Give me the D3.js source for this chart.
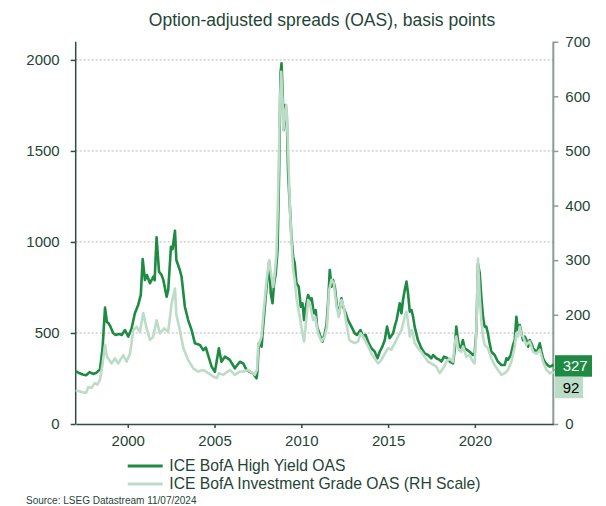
<!DOCTYPE html>
<html>
<head>
<meta charset="utf-8">
<script src="https://cdn.jsdelivr.net/npm/d3@7/dist/d3.min.js"></script>
<style>
  html, body { margin: 0; padding: 0; background: #ffffff; }
  svg { display: block; font-family: "Liberation Sans", Arial, sans-serif; }
</style>
</head>
<body>
<div id="chart"></div>
<script>
// ICE BofA option-adjusted spreads, basis points (decimal-year dates)
const hyDates = [
  1997.0, 1997.2, 1997.4, 1997.6, 1997.8, 1998.0, 1998.2, 1998.4, 1998.55, 1998.69,
  1998.8, 1998.9, 1999.0, 1999.15, 1999.3, 1999.5, 1999.65, 1999.84, 2000.03, 2000.22,
  2000.41, 2000.6, 2000.75, 2000.86, 2000.99, 2001.1, 2001.28, 2001.47, 2001.55, 2001.66,
  2001.8, 2001.95, 2002.05, 2002.24, 2002.33, 2002.49, 2002.58, 2002.72, 2002.8, 2003.0,
  2003.1, 2003.29, 2003.48, 2003.68, 2003.87, 2004.16, 2004.35, 2004.5, 2004.83, 2005.02,
  2005.25, 2005.4, 2005.6, 2005.88, 2006.17, 2006.46, 2006.65, 2006.84, 2007.03, 2007.22,
  2007.42, 2007.47, 2007.55, 2007.63, 2007.71, 2007.8, 2008.0, 2008.08, 2008.15, 2008.24,
  2008.34, 2008.43, 2008.53, 2008.63, 2008.72, 2008.8, 2008.86, 2008.92, 2008.99, 2009.09,
  2009.16, 2009.24, 2009.34, 2009.43, 2009.53, 2009.62, 2009.72, 2009.85, 2009.97, 2010.07,
  2010.16, 2010.26, 2010.39, 2010.53, 2010.6, 2010.72, 2010.83, 2010.91, 2011.07, 2011.22,
  2011.35, 2011.45, 2011.55, 2011.64, 2011.74, 2011.83, 2011.93, 2012.06, 2012.18, 2012.31,
  2012.41, 2012.56, 2012.69, 2012.89, 2013.08, 2013.21, 2013.41, 2013.56, 2013.7, 2013.85,
  2014.04, 2014.23, 2014.39, 2014.52, 2014.67, 2014.81, 2014.94, 2015.09, 2015.29, 2015.38,
  2015.5, 2015.67, 2015.77, 2015.86, 2015.96, 2016.06, 2016.15, 2016.25, 2016.35, 2016.44,
  2016.53, 2016.72, 2016.92, 2017.11, 2017.3, 2017.49, 2017.59, 2017.78, 2017.97, 2018.07,
  2018.22, 2018.42, 2018.55, 2018.74, 2018.84, 2018.93, 2019.03, 2019.12, 2019.22, 2019.31,
  2019.41, 2019.57, 2019.7, 2019.89, 2019.99, 2020.09, 2020.18, 2020.28, 2020.37, 2020.47,
  2020.56, 2020.66, 2020.75, 2020.85, 2020.95, 2021.14, 2021.33, 2021.53, 2021.72, 2021.82,
  2021.91, 2022.07, 2022.2, 2022.3, 2022.39, 2022.49, 2022.59, 2022.68, 2022.78, 2022.88,
  2022.97, 2023.07, 2023.16, 2023.26, 2023.36, 2023.45, 2023.55, 2023.65, 2023.74, 2023.84,
  2023.93, 2024.03, 2024.18, 2024.32, 2024.45, 2024.52
];
const hyValues = [
  290, 280, 272, 268, 285, 275, 282, 300, 420, 639,
  560, 553, 535, 500, 489, 495, 489, 516, 480, 525,
  608, 654, 708, 906, 791, 818, 773, 809, 790, 1026,
  837, 818, 791, 699, 736, 974, 960, 1062, 901, 846,
  809, 644, 571, 516, 443, 434, 406, 420, 315, 287,
  416, 342, 370, 352, 306, 342, 333, 297, 287, 278,
  251, 287, 443, 451, 425, 535, 754, 828, 891, 718,
  663, 773, 828, 956, 1377, 1926, 1981, 1835, 1615, 1752,
  1707, 1377, 1194, 1029, 919, 883, 773, 754, 644, 663,
  571, 644, 708, 681, 690, 608, 626, 535, 489, 452,
  498, 544, 681, 846, 754, 791, 754, 644, 608, 690,
  644, 608, 571, 535, 498, 489, 516, 480, 490, 452,
  416, 397, 361, 397, 425, 461, 535, 471, 498, 535,
  575, 663, 608, 681, 736, 782, 718, 617, 626, 589,
  535, 461, 416, 388, 379, 361, 379, 361, 352, 343,
  370, 361, 343, 333, 406, 535, 461, 406, 425, 461,
  416, 406, 397, 379, 388, 516, 880, 828, 699, 589,
  535, 535, 498, 443, 397, 379, 342, 324, 324, 361,
  352, 379, 434, 461, 589, 516, 544, 498, 461, 480,
  461, 425, 461, 443, 416, 406, 388, 416, 443, 397,
  361, 342, 324, 315, 320, 327
];

const igDates = [
  1997.0, 1997.2, 1997.4, 1997.6, 1997.73, 1997.9, 1998.1, 1998.25, 1998.4, 1998.55,
  1998.69, 1998.8, 1999.07, 1999.25, 1999.45, 1999.74, 1999.93, 2000.13, 2000.32, 2000.5,
  2000.7, 2000.89, 2001.09, 2001.28, 2001.47, 2001.66, 2001.85, 2002.1, 2002.33, 2002.53,
  2002.72, 2002.8, 2003.0, 2003.2, 2003.48, 2003.77, 2004.06, 2004.35, 2004.64, 2004.92,
  2005.12, 2005.25, 2005.5, 2005.88, 2006.17, 2006.46, 2006.7, 2006.9, 2007.22, 2007.32,
  2007.45, 2007.51, 2007.71, 2007.8, 2008.0, 2008.15, 2008.28, 2008.38, 2008.47, 2008.57,
  2008.67, 2008.76, 2008.84, 2008.92, 2008.97, 2009.05, 2009.14, 2009.24, 2009.34, 2009.43,
  2009.53, 2009.62, 2009.72, 2009.91, 2010.0, 2010.16, 2010.3, 2010.39, 2010.53, 2010.68,
  2010.8, 2010.97, 2011.16, 2011.35, 2011.48, 2011.6, 2011.74, 2011.87, 2012.03, 2012.16,
  2012.31, 2012.44, 2012.6, 2012.76, 2012.89, 2013.08, 2013.27, 2013.41, 2013.56, 2013.85,
  2014.04, 2014.23, 2014.42, 2014.61, 2014.81, 2015.0, 2015.19, 2015.38, 2015.57, 2015.77,
  2015.96, 2016.06, 2016.15, 2016.25, 2016.35, 2016.44, 2016.53, 2016.72, 2016.92, 2017.11,
  2017.3, 2017.49, 2017.78, 2017.97, 2018.17, 2018.36, 2018.55, 2018.74, 2018.84, 2018.93,
  2019.03, 2019.22, 2019.32, 2019.51, 2019.7, 2019.89, 2019.99, 2020.09, 2020.18, 2020.28,
  2020.37, 2020.47, 2020.56, 2020.75, 2020.95, 2021.14, 2021.33, 2021.53, 2021.72, 2021.91,
  2022.1, 2022.3, 2022.39, 2022.49, 2022.59, 2022.68, 2022.78, 2022.97, 2023.16, 2023.36,
  2023.55, 2023.74, 2023.93, 2024.13, 2024.32, 2024.45, 2024.52
];
const igValues = [
  62, 60, 58, 57, 68, 66, 75, 72, 81, 110,
  145, 123, 111, 120, 111, 126, 114, 129, 172, 178,
  169, 203, 175, 154, 160, 190, 166, 175, 169, 221,
  248, 200, 172, 139, 117, 102, 96, 99, 93, 87,
  84, 93, 90, 99, 90, 96, 96, 99, 93, 90,
  100, 142, 160, 196, 264, 300, 270, 251, 276, 313,
  428, 581, 645, 593, 538, 569, 584, 502, 398, 337,
  282, 264, 230, 196, 178, 151, 196, 227, 215, 190,
  196, 166, 151, 160, 178, 245, 264, 258, 215, 196,
  227, 215, 184, 154, 151, 148, 151, 166, 160, 142,
  129, 120, 111, 117, 129, 139, 136, 148, 160, 172,
  196, 206, 187, 160, 172, 165, 148, 139, 132, 123,
  114, 111, 105, 93, 102, 114, 120, 114, 148, 160,
  139, 132, 142, 123, 126, 114, 111, 172, 303, 233,
  190, 160, 145, 139, 120, 108, 99, 90, 93, 99,
  114, 142, 166, 160, 178, 163, 160, 145, 151, 132,
  129, 136, 114, 99, 93, 95, 92
];

const leftTicks = [0, 500, 1000, 1500, 2000];
const rightTicks = [0, 100, 200, 300, 400, 500, 600, 700];
const yearTicks = [2000, 2005, 2010, 2015, 2020];
const seriesNames = ["ICE BofA High Yield OAS", "ICE BofA Investment Grade OAS (RH Scale)"];
const seriesColors = ["#1e8a43", "#bddcc7"];
const titleText = "Option-adjusted spreads (OAS), basis points";
const sourceText = "Source: LSEG Datastream 11/07/2024";

const W = 606, H = 506;
const plot = { left: 75.7, right: 553.3, top: 41.7, bottom: 424 };
const textColor = "#1f4536";

const svg = d3.select("#chart").append("svg")
  .attr("width", W).attr("height", H);

const x = d3.scaleLinear().domain([1997.0, 2024.52]).range([plot.left, plot.right]);
const yL = d3.scaleLinear().domain([0, 2100]).range([plot.bottom, plot.top]);
const yR = d3.scaleLinear().domain([0, 700]).range([plot.bottom, plot.top]);

// Title
svg.append("text")
  .attr("x", 322).attr("y", 26)
  .attr("text-anchor", "middle")
  .attr("font-size", 17.5)
  .attr("fill", textColor)
  .text(titleText);

// Dotted gridlines at the left-scale ticks
svg.append("g").selectAll("line")
  .data(leftTicks.filter(d => d > 0))
  .join("line")
  .attr("x1", plot.left).attr("x2", plot.right)
  .attr("y1", d => yL(d)).attr("y2", d => yL(d))
  .attr("stroke", "#b5b5b5")
  .attr("stroke-width", 1)
  .attr("stroke-dasharray", "2,2");

// Last-value tags sit over the right scale, so the label they cover is left blank
const hyLast = hyValues[hyValues.length - 1];
const igLast = igValues[igValues.length - 1];
const boxH = 21.5;
const hyTop = yL(hyLast) - boxH / 2 + 1.5;
const igTop = Math.max(yR(igLast) - boxH / 2, hyTop + boxH);
const rightFmt = d => (yR(d) > hyTop - 4 && yR(d) < igTop + boxH + 4 && d > 0) ? "" : d3.format("d")(d);

// Axes
const axisL = svg.append("g")
  .attr("transform", `translate(${plot.left},0)`)
  .call(d3.axisLeft(yL).tickValues(leftTicks).tickFormat(d3.format("d")).tickSize(5).tickPadding(11).tickSizeOuter(0));
const axisR = svg.append("g")
  .attr("transform", `translate(${plot.right},0)`)
  .call(d3.axisRight(yR).tickValues(rightTicks).tickFormat(rightFmt).tickSize(5).tickPadding(7).tickSizeOuter(0));
const axisB = svg.append("g")
  .attr("transform", `translate(0,${plot.bottom})`)
  .call(d3.axisBottom(x).tickValues(yearTicks).tickFormat(d3.format("d")).tickSize(4).tickPadding(7).tickSizeOuter(0));

[axisL, axisB].forEach(g => {
  g.select(".domain").attr("stroke", "#2f4d40").attr("stroke-width", 1.5);
  g.selectAll(".tick line").attr("stroke", "#2f4d40").attr("stroke-width", 1.5);
});
axisR.select(".domain").attr("stroke", "#8b9c94").attr("stroke-width", 2);
axisR.selectAll(".tick line").attr("stroke", "#8b9c94").attr("stroke-width", 1.5);
[axisL, axisR, axisB].forEach(g => {
  g.selectAll(".tick text")
    .attr("font-size", 15)
    .attr("fill", textColor)
    .attr("font-family", "\"Liberation Sans\", Arial, sans-serif");
});
axisL.select(".domain").attr("d", `M0,${plot.top}V${plot.bottom}`);
axisR.select(".domain").attr("d", `M0,${plot.top}V${plot.bottom}`);

// Series lines: high yield on the left scale, investment grade on the right
const hyData = hyDates.map((d, i) => [d, hyValues[i]]);
const igData = igDates.map((d, i) => [d, igValues[i]]);

svg.append("path")
  .datum(hyData)
  .attr("fill", "none")
  .attr("stroke", seriesColors[0])
  .attr("stroke-width", 2.6)
  .attr("stroke-linejoin", "round")
  .attr("d", d3.line().x(d => x(d[0])).y(d => yL(d[1])));

svg.append("path")
  .datum(igData)
  .attr("fill", "none")
  .attr("stroke", seriesColors[1])
  .attr("stroke-width", 2.6)
  .attr("stroke-linejoin", "round")
  .attr("d", d3.line().x(d => x(d[0])).y(d => yR(d[1])));

// Last-value tags
svg.append("rect")
  .attr("x", plot.right + 1.7).attr("y", hyTop)
  .attr("width", 37).attr("height", boxH)
  .attr("fill", seriesColors[0]);
svg.append("text")
  .attr("x", plot.right + 9.4).attr("y", hyTop + boxH / 2 + 5.3)
  .attr("font-size", 15).attr("fill", "#ffffff")
  .text(hyLast);

svg.append("rect")
  .attr("x", plot.right + 1.7).attr("y", igTop)
  .attr("width", 28).attr("height", boxH)
  .attr("fill", seriesColors[1]);
svg.append("text")
  .attr("x", plot.right + 9.4).attr("y", igTop + boxH / 2 + 5.3)
  .attr("font-size", 15).attr("fill", "#000000")
  .text(igLast);

// Legend
const legend = svg.append("g");
seriesNames.forEach((name, i) => {
  const yy = 466 + i * 18;
  legend.append("line")
    .attr("x1", 127.7).attr("x2", 162.7)
    .attr("y1", yy).attr("y2", yy)
    .attr("stroke", seriesColors[i])
    .attr("stroke-width", 3);
  legend.append("text")
    .attr("x", 169.3).attr("y", yy + 5.2)
    .attr("font-size", 15.7)
    .attr("fill", textColor)
    .text(name);
});

// Source note
svg.append("text")
  .attr("x", 26).attr("y", 504)
  .attr("font-size", 10)
  .attr("fill", textColor)
  .text(sourceText);
</script>
</body>
</html>
